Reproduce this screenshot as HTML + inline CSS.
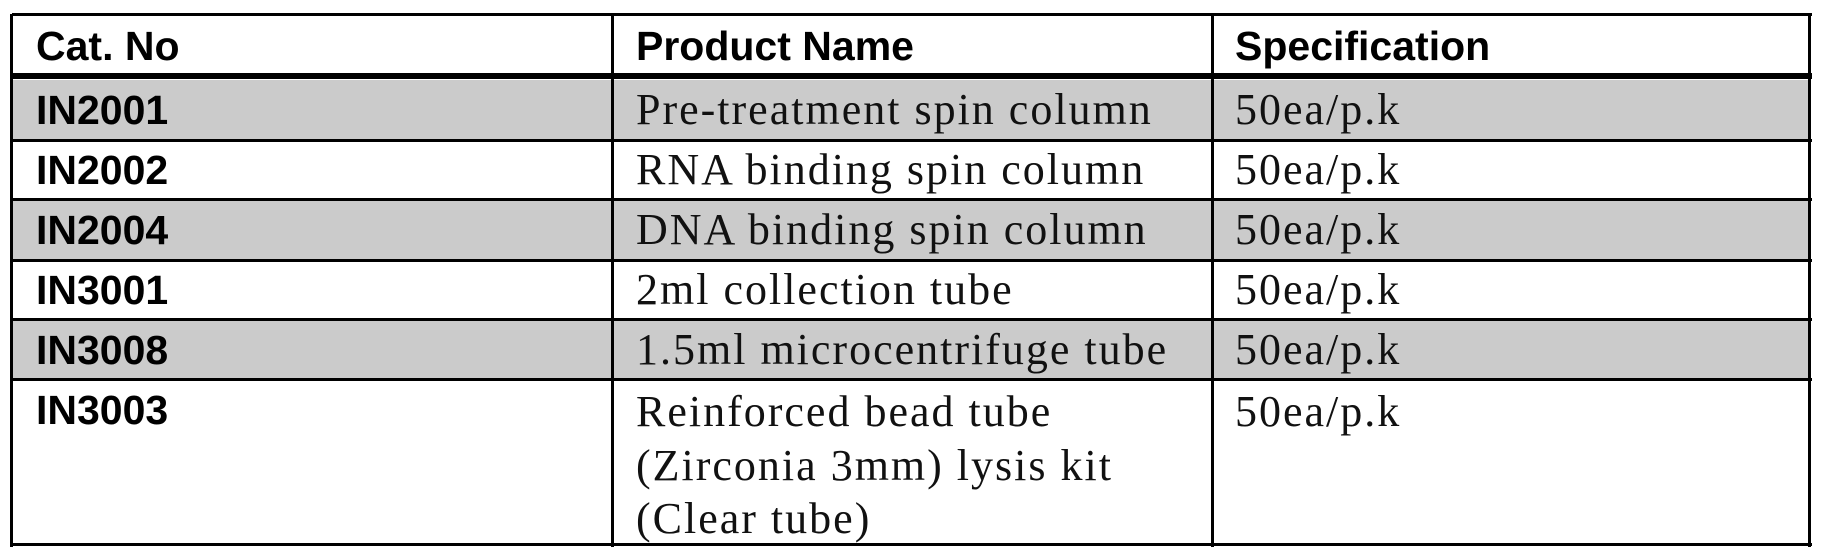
<!DOCTYPE html>
<html><head><meta charset="utf-8"><style>
body{margin:0;width:1824px;height:559px;background:#fff;position:relative;overflow:hidden}
.r{position:absolute;left:12px;width:1798px}
.g{background:#cbcbcb}
.h{position:absolute;height:3px;background:#000;left:12px;width:1800px}
.v{position:absolute;width:3px;background:#000;top:14px;height:533px}
.t{position:absolute;white-space:nowrap;line-height:54px}
.b{font-family:"Liberation Sans",sans-serif;font-weight:bold;font-size:41px;letter-spacing:0px}
.s{font-family:"Liberation Serif",serif;font-size:44px;letter-spacing:2px;color:#111}
</style></head><body>
<div class="r g" style="top:80px;height:61px"></div>
<div class="r g" style="top:200px;height:61px"></div>
<div class="r g" style="top:320px;height:60px"></div>
<div class="h" style="top:13px"></div>
<div class="h" style="top:73px;height:6px"></div>
<div class="h" style="top:139px"></div>
<div class="h" style="top:198px"></div>
<div class="h" style="top:259px"></div>
<div class="h" style="top:318px"></div>
<div class="h" style="top:378px"></div>
<div class="h" style="top:543px"></div>
<div class="v" style="left:10px"></div>
<div class="v" style="left:611px"></div>
<div class="v" style="left:1211px"></div>
<div class="v" style="left:1808px"></div>

<div class="t b" style="left:36px;top:19px">Cat. No</div>
<div class="t b" style="left:636px;top:19px">Product Name</div>
<div class="t b" style="left:1235px;top:19px">Specification</div>

<div class="t b" style="left:36px;top:83px">IN2001</div>
<div class="t s" style="left:636px;top:83px">Pre-treatment spin column</div>
<div class="t s" style="left:1235px;top:83px">50ea/p.k</div>

<div class="t b" style="left:36px;top:143px">IN2002</div>
<div class="t s" style="left:636px;top:143px">RNA binding spin column</div>
<div class="t s" style="left:1235px;top:143px">50ea/p.k</div>

<div class="t b" style="left:36px;top:203px">IN2004</div>
<div class="t s" style="left:636px;top:203px">DNA binding spin column</div>
<div class="t s" style="left:1235px;top:203px">50ea/p.k</div>

<div class="t b" style="left:36px;top:263px">IN3001</div>
<div class="t s" style="left:636px;top:263px">2ml collection tube</div>
<div class="t s" style="left:1235px;top:263px">50ea/p.k</div>

<div class="t b" style="left:36px;top:323px">IN3008</div>
<div class="t s" style="left:636px;top:323px">1.5ml microcentrifuge tube</div>
<div class="t s" style="left:1235px;top:323px">50ea/p.k</div>

<div class="t b" style="left:36px;top:383px">IN3003</div>
<div class="t s" style="left:636px;top:385px">Reinforced bead tube</div>
<div class="t s" style="left:636px;top:439px">(Zirconia 3mm) lysis kit</div>
<div class="t s" style="left:636px;top:492px">(Clear tube)</div>
<div class="t s" style="left:1235px;top:385px">50ea/p.k</div>
</body></html>
